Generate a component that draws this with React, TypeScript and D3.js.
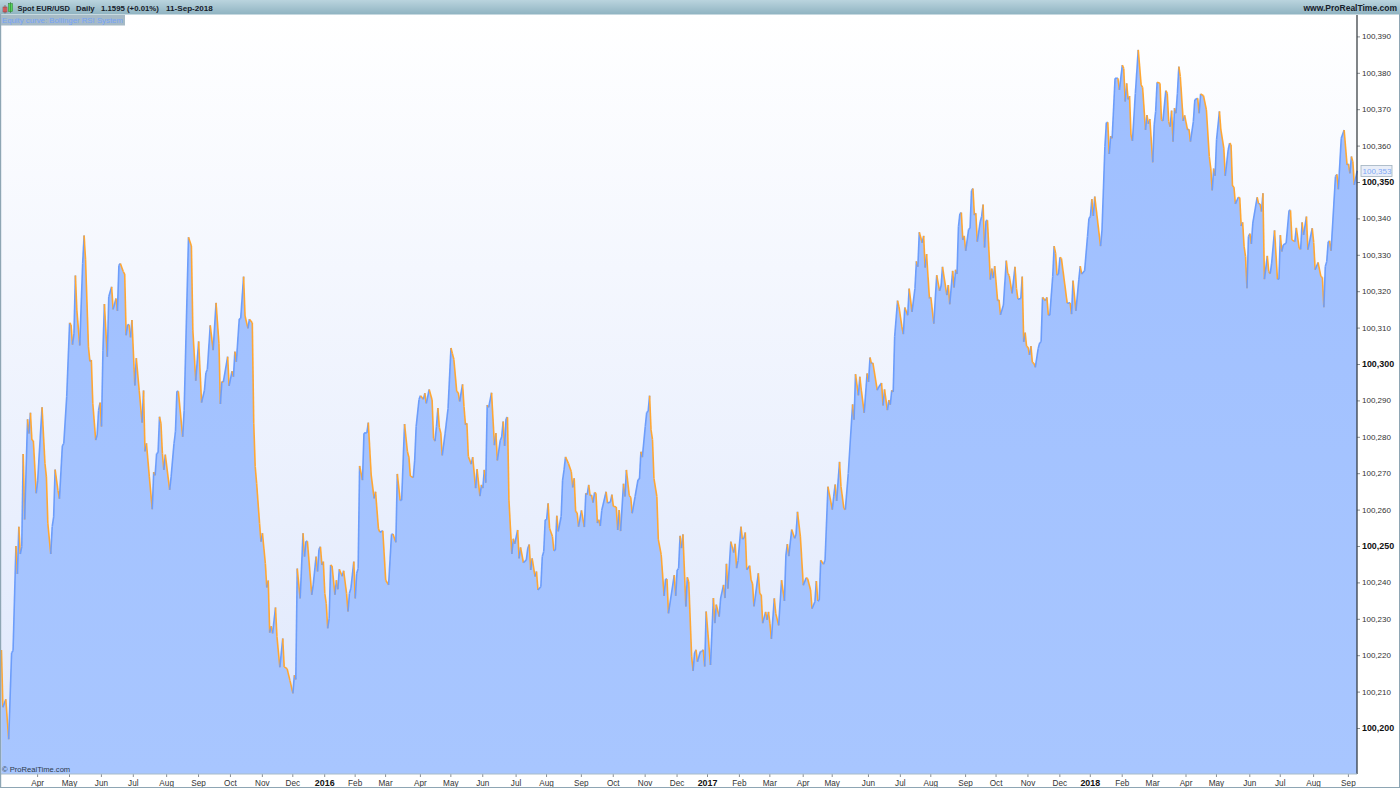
import { useEffect, useRef } from 'react';
import * as d3 from 'd3';

// equity curve turning points: [session number, equity above 100,000]
const curve2015: [number, number][] = [
  [1,221.4],[2,205.7],[4,207.9],[6,196.9],[8,220.7],[9,221.2],[11,250.0],[12,242.3],[13,255.3],[14,247.8],[15,249.8],[16,275.3],[17,257.3],[19,284.8],[20,280.9],[21,286.6],[22,279.1],[23,278.9],[25,264.5],[26,268.1],[29,288.1],[31,272.7],[32,269.0],[33,256.2],[35,247.8],[36,255.3],[37,258.0],[38,271.0],[40,265.2],[41,263.0],[43,277.5],[44,278.2],[46,291.0],[48,311.3],[49,310.8],[50,305.3],[51,308.4],[52,324.3],[53,314.8],[55,305.1],[57,327.6],[58,335.3],[59,328.6],[61,304.7],[62,300.7],[63,301.1],[64,289.2],[66,279.1],[67,280.5],[68,287.3],[69,289.4],[70,282.8],[71,303.8],[72,316.5],[74,302.0],[75,318.5],[77,321.2],[78,315.0],[80,318.0],[81,314.6],[82,327.1],[83,327.6],[85,325.4],[86,324.7],[87,307.9],[88,310.8],[89,310.8],[90,307.3],[91,312.1],[93,294.1],[94,301.6],[96,292.8],[98,283.9],[99,292.7],[100,276.0],[101,278.2],[103,269.0],[105,260.1],[106,270.3],[107,269.4],[108,275.4],[109,275.6],[110,285.5],[111,283.7],[112,275.4],[113,270.9],[114,275.1],[117,265.4],[118,269.0],[120,278.2],[121,281.4],[122,292.5],[123,292.5],[126,280.0],[127,287.3],[130,334.8],[132,332.4],
  [133,309.3],[135,295.4],[137,306.2],[139,289.4],[141,292.8],[142,297.6],[143,298.5],[145,310.6],[147,303.8],[149,316.8],[151,305.7],[152,289.0],[153,295.2],[154,295.0],[157,302.0],[158,294.0],[160,298.0],[161,296.5],[162,303.4],[163,300.6],[165,312.4],[166,312.5],[168,324.0],[169,313.2],[171,309.8],[172,312.3],[174,311.3],[175,283.7],[176,271.8],[177,267.2],[179,256.2],[180,251.2],[181,253.5],[183,245.2],[184,238.6],[185,240.5],[186,226.2],[187,228.0],[188,226.0],[190,233.1],[191,225.1],[193,216.7],[195,224.6],[196,216.8],[198,216.3],[200,213.0],[202,209.5],[203,214.5],[204,213.3],[205,243.8],[207,235.6],[209,253.5],[210,247.1],[211,251.3],[212,251.3],[215,236.6],[216,239.3],[218,247.1],[219,243.0],[220,249.1],[221,249.8],[222,244.8],[223,245.7],
];
const curve2016: [number, number][] = [
  [224,237.0],[225,234.2],[226,227.4],[227,230.1],[228,244.8],[229,244.5],[231,236.6],[232,240.6],[233,238.1],[234,243.6],[236,241.7],[237,243.2],[239,237.0],[240,232.0],[241,237.0],[242,238.4],[244,245.7],[245,235.6],[246,242.5],[247,243.8],[248,272.0],[250,268.1],[251,281.0],[253,281.1],[254,283.9],[256,269.5],[258,263.1],[259,264.9],[261,254.7],[262,253.8],[264,254.2],[266,240.6],[268,239.3],
  [270,253.2],[271,253.3],[273,251.0],[274,269.8],[276,262.5],[277,262.6],[279,283.5],[281,275.9],[282,274.4],[283,269.2],[285,268.8],[286,273.6],[287,282.8],[289,290.3],[290,291.3],[292,290.3],[293,292.0],[294,289.2],[296,293.0],[298,290.1],[299,279.6],[300,278.8],[301,282.8],[302,287.9],[303,282.6],[304,281.0],[305,274.9],[307,281.0],[309,287.8],[311,304.4],[312,302.8],[313,301.3],[315,292.4],[316,292.2],[317,289.7],[319,294.4],[320,288.3],[321,283.3],[322,283.7],[323,274.6],[325,272.5],[326,274.4],[328,265.9],[329,271.1],[331,263.7],[332,266.8],[333,265.9],[334,270.9],[335,267.4],[336,288.7],[337,288.1],[339,292.1],[341,277.7],[342,281.0],[343,273.5],[345,279.0],[346,280.0],[347,284.2],[348,277.5],[349,285.0],[350,285.4],[351,262.6],[353,247.8],[354,252.0],[355,250.6],[357,254.4],[358,246.6],[359,249.6],[361,245.4],[363,246.2],[364,249.4],[365,250.4],[366,243.4],[367,246.6],[369,241.6],[370,243.0],[371,237.9],[373,238.8],[374,247.1],[375,248.5],[376,257.2],[377,257.2],[378,261.7],[379,254.9],[381,252.6],[382,248.7],[383,248.9],[384,258.3],[385,254.0],[387,258.1],[388,268.1],[389,270.9],[390,274.5],[392,272.7],[394,270.4],[395,266.1],[396,268.6],[397,259.4],[398,259.2],[399,255.3],
  [401,259.8],[403,255.2],[404,264.5],[405,264.1],[406,266.8],[407,263.8],[408,264.0],[409,261.9],[410,264.7],[411,264.5],[412,256.3],[413,257.2],[414,255.5],[415,259.8],[418,264.9],[419,261.8],[421,262.1],[422,264.1],[423,260.9],[425,260.7],[426,254.4],[427,259.9],[428,254.1],[430,267.1],[431,263.6],[432,270.9],[434,263.8],[435,263.4],[436,259.0],[438,263.6],[440,268.2],[441,268.4],[442,275.9],[443,274.4],[445,282.8],[446,286.7],[447,287.0],[448,291.3],[449,281.9],[450,279.2],[451,268.6],[453,263.6],[454,251.9],[456,247.6],[458,236.3],[459,240.9],[460,240.9],[461,231.5],[465,242.0],[466,236.3],[467,243.4],[468,243.8],[469,252.8],[470,249.4],[471,253.2],[473,233.4],[474,241.4],[475,240.2],[477,219.6],[478,215.7],[479,220.6],[480,221.5],[481,218.2],[483,221.0],[484,221.0],[485,221.5],[486,216.9],[487,232.0],
];
const curve2017: [number, number][] = [
  [490,217.3],[492,235.7],[493,228.8],[494,233.9],[496,230.6],[497,235.7],[499,239.3],[500,235.7],[501,245.1],[502,238.3],[504,251.2],[506,248.2],[507,250.6],[508,243.9],[509,246.0],[511,255.3],[512,251.9],[513,252.1],[514,253.7],[515,243.5],[517,244.6],[518,240.7],[519,239.6],[520,233.4],[523,242.5],[524,236.9],[525,236.6],[526,228.8],[528,231.9],[529,229.7],[530,231.9],
  [531,228.7],[532,224.5],[534,235.6],[535,231.5],[537,228.2],[539,240.6],[541,234.9],[542,247.5],[543,250.5],[544,247.2],[546,254.5],[548,252.1],[549,253.2],[550,259.4],[552,252.5],[554,239.2],[556,241.3],[557,241.0],[559,237.9],[560,232.8],[562,234.7],[563,240.4],[564,234.9],[565,235.1],[566,246.1],[568,245.0],[569,246.1],[571,266.3],[574,260.0],[575,263.7],[576,266.9],[577,262.4],[579,273.1],[580,266.3],[582,260.3],[583,260.0],[585,269.9],[588,288.9],[589,284.7],[590,297.2],[592,291.4],[593,296.5],[594,292.8],[596,286.6],[598,297.4],[599,295.1],[600,301.8],[601,300.1],[602,300.3],[605,292.8],[606,293.7],[608,294.8],[609,288.6],[610,293.0],[612,287.3],[613,290.1],[614,288.8],[615,292.8],[616,292.3],[617,307.5],[619,317.4],[620,315.7],[622,310.2],[623,308.2],[624,315.5],[626,313.4],[627,320.7],[629,314.3],[631,320.7],[632,328.2],[633,326.7],[634,336.2],[636,333.3],[637,335.2],[638,326.5],[639,330.2],[641,318.0],[642,318.3],[644,311.1],[646,324.4],[648,320.1],[649,321.4],[650,326.7],[653,318.9],[654,321.7],[655,316.4],[657,325.6],[658,321.0],[659,325.9],[660,324.7],[661,337.7],[662,341.3],
  [663,341.6],[664,334.1],[665,335.2],[666,331.1],[668,337.0],[669,337.3],[670,347.6],[671,348.2],[672,340.9],[673,341.4],[674,333.6],[676,339.1],[677,340.5],[678,343.8],[679,332.0],[680,339.4],[681,339.5],[683,323.2],[684,326.2],[685,323.6],[686,326.9],[688,317.4],[689,317.6],[690,313.5],[692,316.2],[694,328.4],[695,324.9],[696,324.3],[698,319.4],[700,326.7],[701,320.8],[702,317.8],[704,318.0],[705,324.0],[706,306.1],[707,308.6],[708,304.8],[709,304.6],[710,302.5],[711,304.9],[712,300.4],[713,300.2],[714,299.1],[716,304.3],[717,305.8],[718,306.1],[719,318.3],[721,317.4],[722,318.3],[723,313.4],[724,313.4],[726,324.0],[727,332.4],[728,330.4],[729,324.4],[730,324.7],[731,329.3],[732,329.0],[736,316.7],[738,316.8],[739,313.7],[740,322.9],[742,314.6],[744,323.1],[745,326.9],[746,324.7],[748,325.6],[750,335.0],[751,340.0],
];
const curve2018: [number, number][] = [
  [752,340.5],[753,345.3],[754,340.7],[755,346.0],[759,332.4],[760,336.8],[762,359.7],[763,366.3],[764,366.4],[765,357.7],[766,362.6],[767,362.0],[769,378.5],[771,378.5],[772,375.3],[774,382.1],[775,381.2],[776,372.1],[777,377.1],[778,372.7],[779,373.6],[780,362.9],[781,361.3],[783,374.3],[785,386.3],
  [787,376.7],[788,376.0],[790,364.3],[791,368.4],[792,366.0],[793,367.3],[795,355.4],[796,365.7],[797,369.4],[798,377.4],[800,377.1],[801,367.1],[802,366.8],[804,375.1],[805,374.4],[806,366.6],[807,365.2],[808,369.6],[809,361.1],[810,370.3],[811,368.9],[812,374.4],[813,381.7],[814,379.0],[816,366.8],[817,368.3],[819,364.3],[820,364.5],[821,361.1],[823,366.6],[824,372.6],[826,373.0],[827,368.9],[828,374.2],[830,373.7],[832,369.8],[834,357.0],[835,353.8],[836,347.7],[837,353.7],[838,351.7],[839,361.6],[841,369.4],[842,364.3],[844,359.3],[845,351.7],[847,358.8],[848,360.7],[849,360.2],[850,348.9],[851,348.6],[852,344.0],[854,345.8],[855,345.7],[856,337.9],[857,338.9],[858,332.3],[859,329.5],[860,320.8],[861,335.0],[862,335.8],[863,333.0],[864,338.7],[867,345.8],[868,344.0],[869,344.0],[870,341.9],[871,346.9],[872,323.3],[874,329.7],[875,325.4],[876,324.8],[877,327.7],[879,336.7],[881,323.3],[882,323.3],[883,335.4],[884,330.9],[885,332.7],[887,333.2],[889,342.2],[890,342.2],[891,334.1],[893,333.6],[894,337.4],[896,331.8],[897,331.5],[898,338.9],[899,335.5],[901,340.5],[902,331.4],[905,337.3],[906,333.4],[907,325.9],[909,327.9],[911,324.0],[912,323.8],[913,315.6],[914,326.8],[915,328.2],[916,333.6],[917,333.8],[918,331.1],[921,351.5],[922,352.1],[923,348.0],[925,362.0],[927,364.3],[929,354.7],[930,355.0],[931,352.4],[932,357.0],[933,355.6],[934,349.2],[936,353.1],
];

const monthLabels = ['Apr','May','Jun','Jul','Aug','Sep','Oct','Nov','Dec','2016','Feb','Mar','Apr','May','Jun','Jul','Aug','Sep','Oct','Nov','Dec','2017','Feb','Mar','Apr','May','Jun','Jul','Aug','Sep','Oct','Nov','Dec','2018','Feb','Mar','Apr','May','Jun','Jul','Aug','Sep'];
const monthBars = [26,48,70,92,115,137,159,181,202,224,245,266,290,311,333,356,377,401,423,445,467,488,510,531,554,574,599,621,642,666,687,709,731,752,774,795,818,839,862,883,906,930];
const priceTicks = d3.range(100200, 100391, 10);
const boldPrices = [100200, 100250, 100300, 100350];
const lastPrice = 100353;

const WIDTH = 1400;
const HEIGHT = 788;
const PLOT = { left: 1, right: 1357, top: 15, bottom: 774 };
const FONT = '"Liberation Sans", Arial, sans-serif';
const UP = '#6c9dfb';
const DOWN = '#ffa733';

export default function App() {
  const svgRef = useRef<SVGSVGElement>(null);

  useEffect(() => {
    if (!svgRef.current) return;
    d3.select(svgRef.current).selectAll('*').remove();

    const svg = d3.select(svgRef.current);
    const points = [...curve2015, ...curve2016, ...curve2017, ...curve2018].map(
      ([bar, gain]) => ({ bar, value: 100000 + gain })
    );

    const x = d3.scaleLinear().domain([0, 936]).range([0, 1357.2]);
    const y = d3.scaleLinear().domain([100200, 100390]).range([728, 36.4]);

    const defs = svg.append('defs');
    const gradient = (id: string, stops: [number, string][]) => {
      const g = defs.append('linearGradient').attr('id', id).attr('x1', 0).attr('y1', 0).attr('x2', 0).attr('y2', 1);
      stops.forEach(([o, c]) => g.append('stop').attr('offset', o).attr('stop-color', c));
    };
    gradient('plotBg', [[0, '#ffffff'], [1, '#dee7fc']]);
    gradient('areaFill', [[0, '#9fbfff'], [1, '#a8c6ff']]);
    gradient('headerBg', [[0, '#bad4de'], [1, '#8fb3c1']]);

    svg.append('rect').attr('width', WIDTH).attr('height', HEIGHT).attr('fill', '#ffffff');
    svg.append('rect')
      .attr('x', PLOT.left).attr('y', PLOT.top)
      .attr('width', PLOT.right - PLOT.left).attr('height', PLOT.bottom - PLOT.top)
      .attr('fill', 'url(#plotBg)');

    const area = d3.area<{ bar: number; value: number }>()
      .x(d => x(d.bar)).y0(PLOT.bottom).y1(d => y(d.value));
    svg.append('path').datum(points).attr('d', area).attr('fill', 'url(#areaFill)');

    // rising legs blue, falling legs orange
    const line = d3.line<{ bar: number; value: number }>().x(d => x(d.bar)).y(d => y(d.value));
    svg.append('g').attr('fill', 'none').attr('stroke-width', 1.6).attr('stroke-linejoin', 'round')
      .selectAll('path')
      .data(d3.pairs(points))
      .join('path')
      .attr('d', d => line(d))
      .attr('stroke', ([a, b]) => (b.value < a.value ? DOWN : UP));

    // price axis
    const yAxis = d3.axisRight(y).tickValues(priceTicks).tickSize(3).tickPadding(2)
      .tickFormat(d => d3.format(',')(Number(d)));
    const yG = svg.append('g').attr('transform', `translate(${PLOT.right},0)`).call(yAxis);
    yG.select('.domain').remove();
    yG.selectAll('line').attr('stroke', '#8a8f94');
    yG.selectAll<SVGTextElement, number>('text')
      .attr('font-family', FONT)
      .attr('font-size', d => (boldPrices.includes(d) ? 8.9 : 8))
      .attr('font-weight', d => (boldPrices.includes(d) ? 700 : 400))
      .attr('fill', d => (boldPrices.includes(d) ? '#111' : '#333'));

    // time axis
    const xAxis = d3.axisBottom(x).tickValues(monthBars).tickSize(3).tickPadding(3)
      .tickFormat((_, i) => monthLabels[i]);
    const xG = svg.append('g').attr('transform', `translate(-0.6,${PLOT.bottom})`).call(xAxis);
    xG.select('.domain').remove();
    xG.selectAll('line').attr('stroke', '#8a8f94');
    xG.selectAll<SVGTextElement, number>('text')
      .attr('font-family', FONT)
      .attr('font-size', (_, i) => (monthLabels[i].startsWith('20') ? 8.9 : 8.2))
      .attr('font-weight', (_, i) => (monthLabels[i].startsWith('20') ? 700 : 400))
      .attr('fill', (_, i) => (monthLabels[i].startsWith('20') ? '#111' : '#333'));

    // frame
    svg.append('line').attr('x1', PLOT.right).attr('x2', PLOT.right).attr('y1', PLOT.top).attr('y2', PLOT.bottom)
      .attr('stroke', '#2c3338').attr('stroke-width', 1.2);
    svg.append('line').attr('x1', 0).attr('x2', PLOT.right).attr('y1', PLOT.bottom).attr('y2', PLOT.bottom)
      .attr('stroke', '#a9bcc8').attr('stroke-width', 1);
    svg.append('rect').attr('x', 0).attr('y', 0).attr('width', 1.2).attr('height', HEIGHT).attr('fill', '#8ea6b4');
    svg.append('rect').attr('x', 1399).attr('y', 0).attr('width', 1).attr('height', HEIGHT).attr('fill', '#8ea6b4');
    svg.append('rect').attr('x', 0).attr('y', 787).attr('width', WIDTH).attr('height', 1).attr('fill', '#8ea6b4');

    // last value flag
    svg.append('rect').attr('x', 1361).attr('y', y(lastPrice) - 5.5).attr('width', 31).attr('height', 11)
      .attr('fill', '#e9eef8').attr('stroke', '#9fb0bd').attr('stroke-width', 0.8);
    svg.append('text').attr('x', 1362.5).attr('y', y(lastPrice) + 3).text(d3.format(',')(lastPrice))
      .attr('font-family', FONT).attr('font-size', 8).attr('fill', '#7fa8f5');

    // header strip
    svg.append('rect').attr('width', WIDTH).attr('height', 14.5).attr('fill', 'url(#headerBg)');
    svg.append('rect').attr('x', 3).attr('y', 7).attr('width', 4).attr('height', 5).attr('fill', '#f06a6a').attr('stroke', '#7a3a3a').attr('stroke-width', 0.5);
    svg.append('line').attr('x1', 5).attr('x2', 5).attr('y1', 5).attr('y2', 13.5).attr('stroke', '#7a3a3a').attr('stroke-width', 0.6);
    svg.append('rect').attr('x', 8.5).attr('y', 3.5).attr('width', 4).attr('height', 8).attr('fill', '#53d65a').attr('stroke', '#2f7a35').attr('stroke-width', 0.5);
    svg.append('line').attr('x1', 10.5).attr('x2', 10.5).attr('y1', 2).attr('y2', 13).attr('stroke', '#2f7a35').attr('stroke-width', 0.6);

    const header = [
      { t: 'Spot EUR/USD', x: 17.5, size: 7.5 },
      { t: 'Daily', x: 76, size: 7.8 },
      { t: '1.1595 (+0.01%)', x: 101, size: 7.8 },
      { t: '11-Sep-2018', x: 166, size: 8.1 },
    ];
    svg.append('g').selectAll('text').data(header).join('text')
      .attr('x', d => d.x).attr('y', 11).text(d => d.t)
      .attr('font-family', FONT).attr('font-size', d => d.size).attr('font-weight', 700).attr('fill', '#16202a');
    svg.append('text').attr('x', 1397).attr('y', 11).attr('text-anchor', 'end').text('www.ProRealTime.com')
      .attr('font-family', FONT).attr('font-size', 8.5).attr('font-weight', 700).attr('fill', '#16202a');

    // indicator legend tab
    svg.append('rect').attr('x', 1).attr('y', 15).attr('width', 124).attr('height', 10.5).attr('fill', '#a6bac6');
    svg.append('text').attr('x', 2).attr('y', 23).text('Equity curve: Bollinger RSI System')
      .attr('font-family', FONT).attr('font-size', 7.8).attr('fill', '#74a2f8');

    svg.append('text').attr('x', 2).attr('y', 772).text('© ProRealTime.com')
      .attr('font-family', FONT).attr('font-size', 7.6).attr('fill', '#2c3a4a');
  }, []);

  return (
    <svg
      ref={svgRef}
      width={WIDTH}
      height={HEIGHT}
      viewBox={`0 0 ${WIDTH} ${HEIGHT}`}
      style={{ position: 'absolute', left: 0, top: 0, display: 'block' }}
    />
  );
}
